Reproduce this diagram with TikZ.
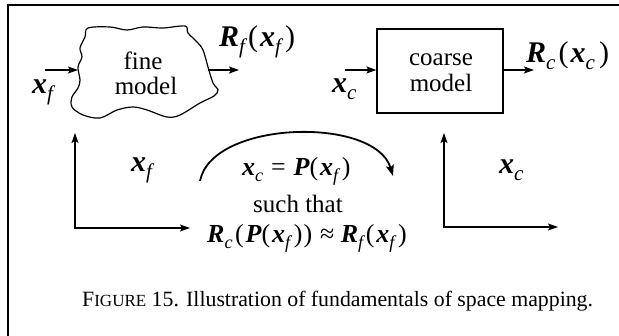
\documentclass[tikz,border=0pt]{standalone}
\usepackage{fontspec}
\setmainfont{Liberation Serif}
\usetikzlibrary{arrows.meta}
\newcommand{\bx}{\textbf{\textit{x}}}
\newcommand{\bR}{\textbf{\textit{R}}}
\newcommand{\bP}{\textbf{\textit{P}}}
\makeatletter
\newcommand{\sbx}[1]{\raisebox{-0.22em}{\fontsize{\fpeval{0.7*\f@size}}{0}\selectfont\itshape #1}\kern0.1em}
\makeatother
\newcommand{\lp}{(\kern0.07em}
\newcommand{\rp}{\kern0.04em)}
\tikzset{
  arr/.style={line width=1.1pt, -{Stealth[length=10pt,width=7pt,inset=2pt]}},
  dblarr/.style={line width=1.1pt, {Stealth[length=10pt,width=7pt,inset=2pt]}-{Stealth[length=10pt,width=7pt,inset=2pt]}},
  txt/.style={inner sep=0pt, font=\fontsize{25}{25}\selectfont},
  lab/.style={inner sep=0pt, font=\fontsize{30}{30}\selectfont},
  mlab/.style={inner sep=0pt, font=\fontsize{26}{26}\selectfont},
}
\begin{document}
\begin{tikzpicture}[x=1pt,y=-1pt]
\useasboundingbox (0,0) rectangle (619,336);
% frame
\draw[line width=2pt] (8,340) -- (8,5) -- (622,5);
% fine model blob
\draw[line width=1.2pt] plot[smooth cycle, tension=0.55] coordinates {
 (88,28) (110,27) (127,30) (143,27) (163,28) (185,26) (188,33) (197,42) (203,50)
 (208,67) (213,83) (218,90) (214,96) (200,103) (180,115) (167,117) (147,110)
 (133,107) (117,110) (100,118) (83,115) (72,107) (72,97) (78,88) (80,80)
 (78,67) (82,57) (80,48) (85,37)};
\node[txt, anchor=base] (fine1) at (143,70) {fine};
\node[txt, anchor=base] (fine2) at (146,95) {model};
\coordinate (xfs) at (45,70);
\coordinate (xfe) at (78,70);
\coordinate (rfs) at (208,70);
\coordinate (rfe) at (239,70);
\draw[arr] (xfs) -- (xfe);
\draw[arr] (rfs) -- (rfe);
\node[lab, anchor=base west] (xflab) at (32,94) {\bx\sbx{f}};
\node[lab, anchor=base west] (rflab) at (219,47) {\bR\sbx{f}\lp\bx\sbx{f}\rp};
% coarse model
\node[draw, line width=1.2pt, minimum width=126pt, minimum height=84pt, inner sep=0pt] (coarse) at (440,71) {};
\node[txt, anchor=base] (coarse1) at (441,66) {coarse};
\node[txt, anchor=base] (coarse2) at (441,92) {model};
\coordinate (xcs) at (345,70);
\coordinate (rce) at (534,70);
\draw[arr] (xcs) -- (xcs -| coarse.west);
\draw[arr] (coarse.east |- rce) -- (rce);
\node[lab, anchor=base west] (xclab) at (332,93) {\bx\sbx{c}};
\node[lab, anchor=base west] (rclab) at (526,63) {\bR\sbx{c}\lp\bx\sbx{c}\rp};
% left axes
\coordinate (lt) at (75,133);
\coordinate (lc) at (75,228);
\coordinate (lr) at (190,228);
\draw[dblarr] (lt) -- (lc) -- (lr);
\node[lab, anchor=base west] (xfmid) at (131,172) {\bx\sbx{f}};
% right axes
\coordinate (rt) at (444,133);
\coordinate (rc) at (444,227);
\coordinate (rr) at (558,227);
\draw[dblarr] (rt) -- (rc) -- (rr);
\node[lab, anchor=base west] (xcmid) at (499,174) {\bx\sbx{c}};
% mapping arc
\coordinate (as) at (200,181);
\coordinate (ae) at (393,176);
\draw[line width=1.8pt, -{Stealth[length=11pt,width=8pt,inset=2pt]}] (as) .. controls (212,120) and (375,116) .. (ae);
\node[mlab, anchor=base west] (map) at (242,176) {\bx\sbx{c}\kern0.2em=\kern0.3em\bP\lp\bx\sbx{f}\rp};
\node[inner sep=0pt, font=\fontsize{25}{25}\selectfont, anchor=base west] (such) at (253,213) {such that};
\node[mlab, anchor=base west] (cond) at (207,243) {\bR\sbx{c}\lp\bP\lp\bx\sbx{f}\rp\rp\kern0.05em{} ≈ \bR\sbx{f}\lp\bx\sbx{f}\rp};
% caption
\node[inner sep=0pt, anchor=base west, font=\fontsize{21.8}{21.8}\selectfont] (cap) at (82,307) {F{\fontsize{17}{17}\selectfont IGURE} 15. Illustration of fundamentals of space mapping.};
\end{tikzpicture}
\end{document}
